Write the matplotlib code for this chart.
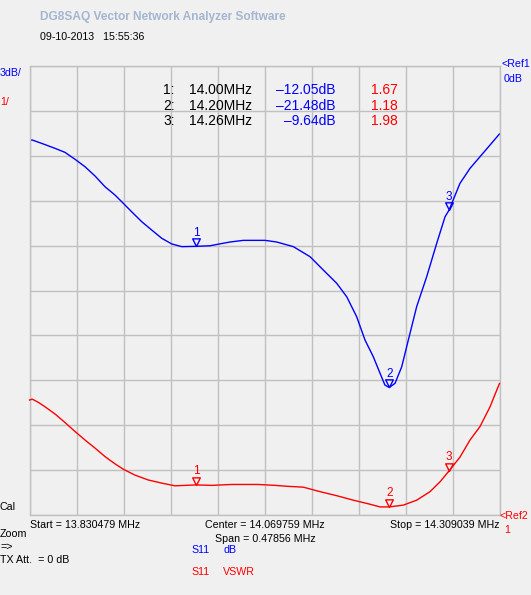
import numpy as np
import matplotlib
matplotlib.use("Agg")
from matplotlib import pyplot as plt
from matplotlib.path import Path

# sweep
f_start = 13.830479
f_stop = 14.309039

# S11 dB trace (MHz, dB)
s11_freq = [13.8305, 13.8330, 13.8429, 13.8564, 13.8666, 13.8768, 13.8870, 13.8972,
            13.9074, 13.9175, 13.9244, 13.9345, 13.9447, 13.9549, 13.9651, 13.9753,
            13.9855, 14.0000, 14.0143, 14.0346, 14.0482, 14.0703, 14.0822, 14.0991,
            14.1161, 14.1296, 14.1433, 14.1535, 14.1636, 14.1721, 14.1805, 14.1874,
            14.1924, 14.1968, 14.2027, 14.2095, 14.2162, 14.2247, 14.2349, 14.2451,
            14.2536, 14.2576, 14.2688, 14.2790, 14.2892, 14.2994, 14.3090]
s11_db = [-4.99, -4.94, -5.17, -5.50, -5.77, -6.23, -6.73, -7.35,
          -8.07, -8.62, -9.07, -9.74, -10.40, -10.96, -11.51, -11.89,
          -12.07, -12.05, -12.01, -11.76, -11.65, -11.65, -11.76, -12.07,
          -12.74, -13.63, -14.52, -15.42, -16.75, -18.31, -19.42, -20.53,
          -21.32, -21.48, -21.20, -20.09, -18.31, -16.08, -14.08, -11.85,
          -10.07, -9.64, -7.84, -6.84, -6.06, -5.28, -4.54]

# S11 VSWR trace
vswr_freq = [13.8305, 13.8333, 13.8394, 13.8463, 13.8564, 13.8666, 13.8768, 13.8870,
             13.8972, 13.9074, 13.9175, 13.9260, 13.9377, 13.9514, 13.9651, 13.9786,
             14.0000, 14.0160, 14.0364, 14.0634, 14.0805, 14.0924, 14.1093, 14.1263,
             14.1433, 14.1602, 14.1772, 14.1874, 14.1968, 14.2111, 14.2247, 14.2383,
             14.2485, 14.2576, 14.2688, 14.2790, 14.2892, 14.2994, 14.3090]
vswr = [3.56, 3.58, 3.51, 3.41, 3.25, 3.06, 2.86, 2.67,
        2.49, 2.30, 2.14, 2.02, 1.89, 1.78, 1.71, 1.65,
        1.67, 1.66, 1.68, 1.68, 1.66, 1.64, 1.62, 1.52,
        1.43, 1.33, 1.24, 1.18, 1.18, 1.22, 1.33, 1.52,
        1.74, 1.98, 2.29, 2.67, 2.97, 3.41, 3.93]

# markers
mk_freq = [14.0000, 14.1968, 14.2576]
mk_label = ["14.00MHz", "14.20MHz", "14.26MHz"]
mk_db = [-12.05, -21.48, -9.64]
mk_vswr = [1.67, 1.18, 1.98]

W, H = 531, 595
BG = "#f0f0f0"
GRID = "#c0c0c0"
BLUE = "#0000ff"
RED = "#ff0000"
FONT = "Liberation Sans"

def px(x, y):
    return x / W, 1 - y / H

fig = plt.figure(figsize=(W / 100, H / 100), dpi=100, facecolor=BG)
left, right, top, bottom = 29.5, 499.5, 66, 515
ax = fig.add_axes([left / W, 1 - bottom / H, (right - left) / W, (bottom - top) / H])
ax.set_facecolor(BG)
ax.set_xlim(f_start, f_stop)
ax.set_ylim(-30, 0)
ax.set_xticks(np.linspace(f_start, f_stop, 11))
ax.set_yticks(np.linspace(-30, 0, 11))
ax.grid(True, color=GRID, linewidth=1)
ax.tick_params(length=0, labelbottom=False, labelleft=False)
for s in ax.spines.values():
    s.set_color(GRID)
    s.set_linewidth(1)

ax2 = ax.twinx()
ax2.set_ylim(1, 11)
ax2.set_yticks([])
ax2.patch.set_visible(False)
for s in ax2.spines.values():
    s.set_visible(False)

ax.plot(s11_freq, s11_db, color=BLUE, linewidth=1)
ax2.plot(vswr_freq, vswr, color=RED, linewidth=1, clip_on=False)

# marker triangles: tip sits on the trace
tri = Path([(-1, 2), (1, 2), (0, 0), (-1, 2)], [Path.MOVETO, Path.LINETO, Path.LINETO, Path.CLOSEPOLY])
for i in range(3):
    ax.plot(mk_freq[i], mk_db[i], marker=tri, markersize=11, markerfacecolor="none",
            markeredgecolor=BLUE, markeredgewidth=1)
    ax.annotate(str(i + 1), (mk_freq[i], mk_db[i]), xytext=(0, 5.5), textcoords="offset points",
                ha="center", va="bottom", color=BLUE, fontsize=8.5, family=FONT)
    ax2.plot(mk_freq[i], mk_vswr[i], marker=tri, markersize=11, markerfacecolor="none",
             markeredgecolor=RED, markeredgewidth=1)
    ax2.annotate(str(i + 1), (mk_freq[i], mk_vswr[i]), xytext=(0, 5.5), textcoords="offset points",
                 ha="center", va="bottom", color=RED, fontsize=8.5, family=FONT)

# marker table
rows_y = [90.5, 106, 121.5]
for i in range(3):
    fig.text(*px(163, rows_y[i]), f"{i + 1}:", ha="left", va="center", fontsize=10, family=FONT)
    fig.text(*px(252, rows_y[i]), mk_label[i], ha="right", va="center", fontsize=10, family=FONT)
    fig.text(*px(336, rows_y[i]), f"{mk_db[i]:.2f}dB".replace("-", "\u2013"), ha="right", va="center",
             fontsize=10, family=FONT, color=BLUE)
    fig.text(*px(398, rows_y[i]), f"{mk_vswr[i]:.2f}", ha="right", va="center",
             fontsize=10, family=FONT, color=RED)

# header
fig.text(*px(40, 17), "DG8SAQ Vector Network Analyzer Software", ha="left", va="center",
         fontsize=8.6, fontweight="bold", family=FONT, color="#a4b6d0")
fig.text(*px(40, 37), "09-10-2013   15:55:36", ha="left", va="center", fontsize=7.7, family=FONT)

# side labels
fs = 7.7
fig.text(*px(0, 73), "3dB/", ha="left", va="center", fontsize=fs, family=FONT, color=BLUE)
fig.text(*px(0, 102), "1/", ha="left", va="center", fontsize=fs, family=FONT, color=RED)
fig.text(*px(501, 64), "<Ref1", ha="left", va="center", fontsize=fs, family=FONT, color=BLUE)
fig.text(*px(504, 79), "0dB", ha="left", va="center", fontsize=fs, family=FONT, color=BLUE)
fig.text(*px(500, 516), "<Ref2", ha="left", va="center", fontsize=fs, family=FONT, color=RED)
fig.text(*px(504, 530), "1", ha="left", va="center", fontsize=fs, family=FONT, color=RED)
fig.text(*px(0, 507), "Cal", ha="left", va="center", fontsize=fs, family=FONT)

# bottom texts
fig.text(*px(29.5, 525), "Start = 13.830479 MHz", ha="left", va="center", fontsize=fs, family=FONT)
fig.text(*px(265, 525), "Center = 14.069759 MHz", ha="center", va="center", fontsize=fs, family=FONT)
fig.text(*px(265, 539), "Span = 0.47856 MHz", ha="center", va="center", fontsize=fs, family=FONT)
fig.text(*px(499.5, 525), "Stop = 14.309039 MHz", ha="right", va="center", fontsize=fs, family=FONT)
fig.text(*px(0, 534), "Zoom", ha="left", va="center", fontsize=fs, family=FONT)
fig.text(*px(0, 547), "=>", ha="left", va="center", fontsize=fs, family=FONT)
fig.text(*px(0, 560), "TX Att.  = 0 dB", ha="left", va="center", fontsize=fs, family=FONT)
fig.text(*px(191, 550), "S11", ha="left", va="center", fontsize=fs, family=FONT, color=BLUE)
fig.text(*px(223, 550), "dB", ha="left", va="center", fontsize=fs, family=FONT, color=BLUE)
fig.text(*px(191, 572), "S11", ha="left", va="center", fontsize=fs, family=FONT, color=RED)
fig.text(*px(223, 572), "VSWR", ha="left", va="center", fontsize=fs, family=FONT, color=RED)

fig.savefig("out.png", dpi=100, facecolor=BG)
